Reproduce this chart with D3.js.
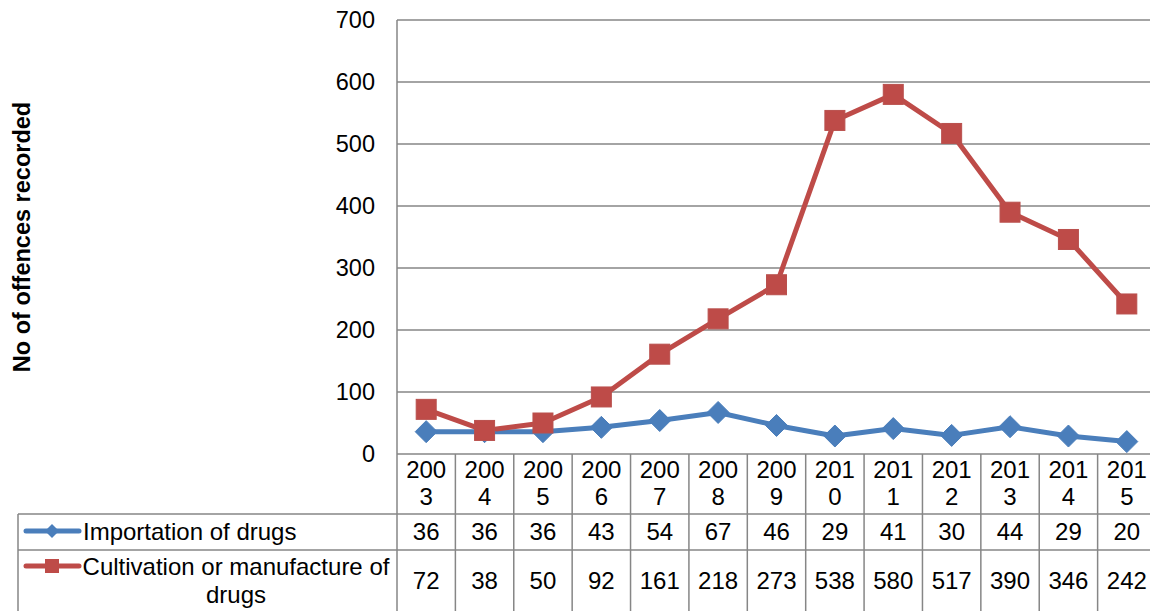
<!DOCTYPE html>
<html><head><meta charset="utf-8">
<script src="https://cdn.jsdelivr.net/npm/d3@7/dist/d3.min.js"></script>
<style>
html,body{margin:0;padding:0;background:#fff;}
svg{display:block;font-family:"Liberation Sans",Arial,sans-serif;}
</style></head>
<body>
<svg id="chart" width="1150" height="611"></svg>
<script>
const years = ["2003","2004","2005","2006","2007","2008","2009","2010","2011","2012","2013","2014","2015"];
const importation = [36,36,36,43,54,67,46,29,41,30,44,29,20];
const cultivation = [72,38,50,92,161,218,273,538,580,517,390,346,242];
const yTicks = [0,100,200,300,400,500,600,700];
const seriesNames = ["Importation of drugs","Cultivation or manufacture of drugs"];
const yTitle = "No of offences recorded";

const svg = d3.select("#chart");
const fs = 24;
const pLeft = 397, pRight = 1156, pTop = 20, pBottom = 454;
const gridCol = "#868686";
const blue = "#4A7EBB", red = "#BE4B48";

const x = d3.scaleBand().domain(years).range([pLeft, pRight]).padding(0);
const y = d3.scaleLinear().domain([0, 700]).range([pBottom, pTop]);

// gridlines
svg.append("g").selectAll("line").data(yTicks).join("line")
  .attr("x1", pLeft).attr("x2", pRight)
  .attr("y1", d => y(d)).attr("y2", d => y(d))
  .attr("stroke", gridCol).attr("stroke-width", 1.5);

// y axis
const yAxis = svg.append("g").attr("transform", `translate(${pLeft},0)`)
  .call(d3.axisLeft(y).tickValues(yTicks).tickSize(0).tickPadding(22));
yAxis.select(".domain").remove();
yAxis.selectAll("text").attr("font-size", 23.5).attr("fill", "#000")
  .attr("font-family", "Liberation Sans, Arial, sans-serif");

// y title
svg.append("text")
  .attr("transform", `translate(30,${(pTop+pBottom)/2}) rotate(-90)`)
  .attr("text-anchor", "middle")
  .attr("font-size", 23.5).attr("font-weight", "bold").attr("fill", "#000")
  .text(yTitle);

// table
const row1 = 514, row2 = 550, tableBottom = 640, legendLeft = 18;
const tbl = svg.append("g").attr("stroke", gridCol).attr("stroke-width", 1.5);
tbl.selectAll("line.v").data(years.concat(["end"])).join("line")
  .attr("x1", (d,i) => pLeft + i * x.bandwidth())
  .attr("x2", (d,i) => pLeft + i * x.bandwidth())
  .attr("y1", (d,i) => i === 0 ? pTop : pBottom)
  .attr("y2", tableBottom);
tbl.append("line").attr("x1", legendLeft).attr("x2", pRight).attr("y1", row1).attr("y2", row1);
tbl.append("line").attr("x1", legendLeft).attr("x2", pRight).attr("y1", row2).attr("y2", row2);
tbl.append("line").attr("x1", legendLeft).attr("x2", legendLeft).attr("y1", row1).attr("y2", tableBottom);

// year headers (wrapped)
const yh = svg.append("g").attr("font-size", fs).attr("text-anchor", "middle").attr("fill", "#000");
years.forEach(yr => {
  const cx = x(yr) + x.bandwidth()/2;
  yh.append("text").attr("x", cx).attr("y", 478).text(yr.slice(0,3));
  yh.append("text").attr("x", cx).attr("y", 505).text(yr.slice(3));
});

// values rows
const vg = svg.append("g").attr("font-size", fs).attr("text-anchor", "middle").attr("fill", "#000");
vg.selectAll("text.r1").data(importation).join("text").attr("class","r1")
  .attr("x", (d,i) => x(years[i]) + x.bandwidth()/2).attr("y", 540).text(d => d);
vg.selectAll("text.r2").data(cultivation).join("text").attr("class","r2")
  .attr("x", (d,i) => x(years[i]) + x.bandwidth()/2).attr("y", 589).text(d => d);

// legend keys
function diamond(s){ return `M0,${-s}L${s},0L0,${s}L${-s},0Z`; }
const lg = svg.append("g");
lg.append("line").attr("x1", 26).attr("x2", 79).attr("y1", 531).attr("y2", 531)
  .attr("stroke", blue).attr("stroke-width", 5).attr("stroke-linecap", "round");
lg.append("path").attr("d", diamond(7)).attr("transform", "translate(52,531)").attr("fill", blue);
lg.append("line").attr("x1", 26).attr("x2", 79).attr("y1", 566).attr("y2", 566)
  .attr("stroke", red).attr("stroke-width", 5).attr("stroke-linecap", "round");
lg.append("rect").attr("x", 45).attr("y", 559).attr("width", 14).attr("height", 14).attr("fill", red);

lg.append("text").attr("x", 83).attr("y", 540).attr("font-size", fs).attr("fill", "#000").text(seriesNames[0]);
lg.append("text").attr("x", 236).attr("y", 575).attr("font-size", fs).attr("text-anchor", "middle").attr("fill", "#000").text("Cultivation or manufacture of");
lg.append("text").attr("x", 236).attr("y", 603).attr("font-size", fs).attr("text-anchor", "middle").attr("fill", "#000").text("drugs");

// lines
const line = d3.line().x((d,i) => x(years[i]) + x.bandwidth()/2).y(d => y(d));
svg.append("path").datum(importation).attr("d", line).attr("fill", "none")
  .attr("stroke", blue).attr("stroke-width", 5).attr("stroke-linejoin", "round");
svg.append("path").datum(cultivation).attr("d", line).attr("fill", "none")
  .attr("stroke", red).attr("stroke-width", 5).attr("stroke-linejoin", "round");

// markers
svg.append("g").selectAll("path").data(importation).join("path")
  .attr("d", diamond(11))
  .attr("transform", (d,i) => `translate(${x(years[i]) + x.bandwidth()/2},${y(d)})`)
  .attr("fill", blue).attr("stroke", blue).attr("stroke-width", 1);
svg.append("g").selectAll("rect").data(cultivation).join("rect")
  .attr("x", (d,i) => x(years[i]) + x.bandwidth()/2 - 10)
  .attr("y", d => y(d) - 10)
  .attr("width", 20).attr("height", 20)
  .attr("fill", red).attr("stroke", "#B9504D").attr("stroke-width", 1);
</script>
</body></html>
